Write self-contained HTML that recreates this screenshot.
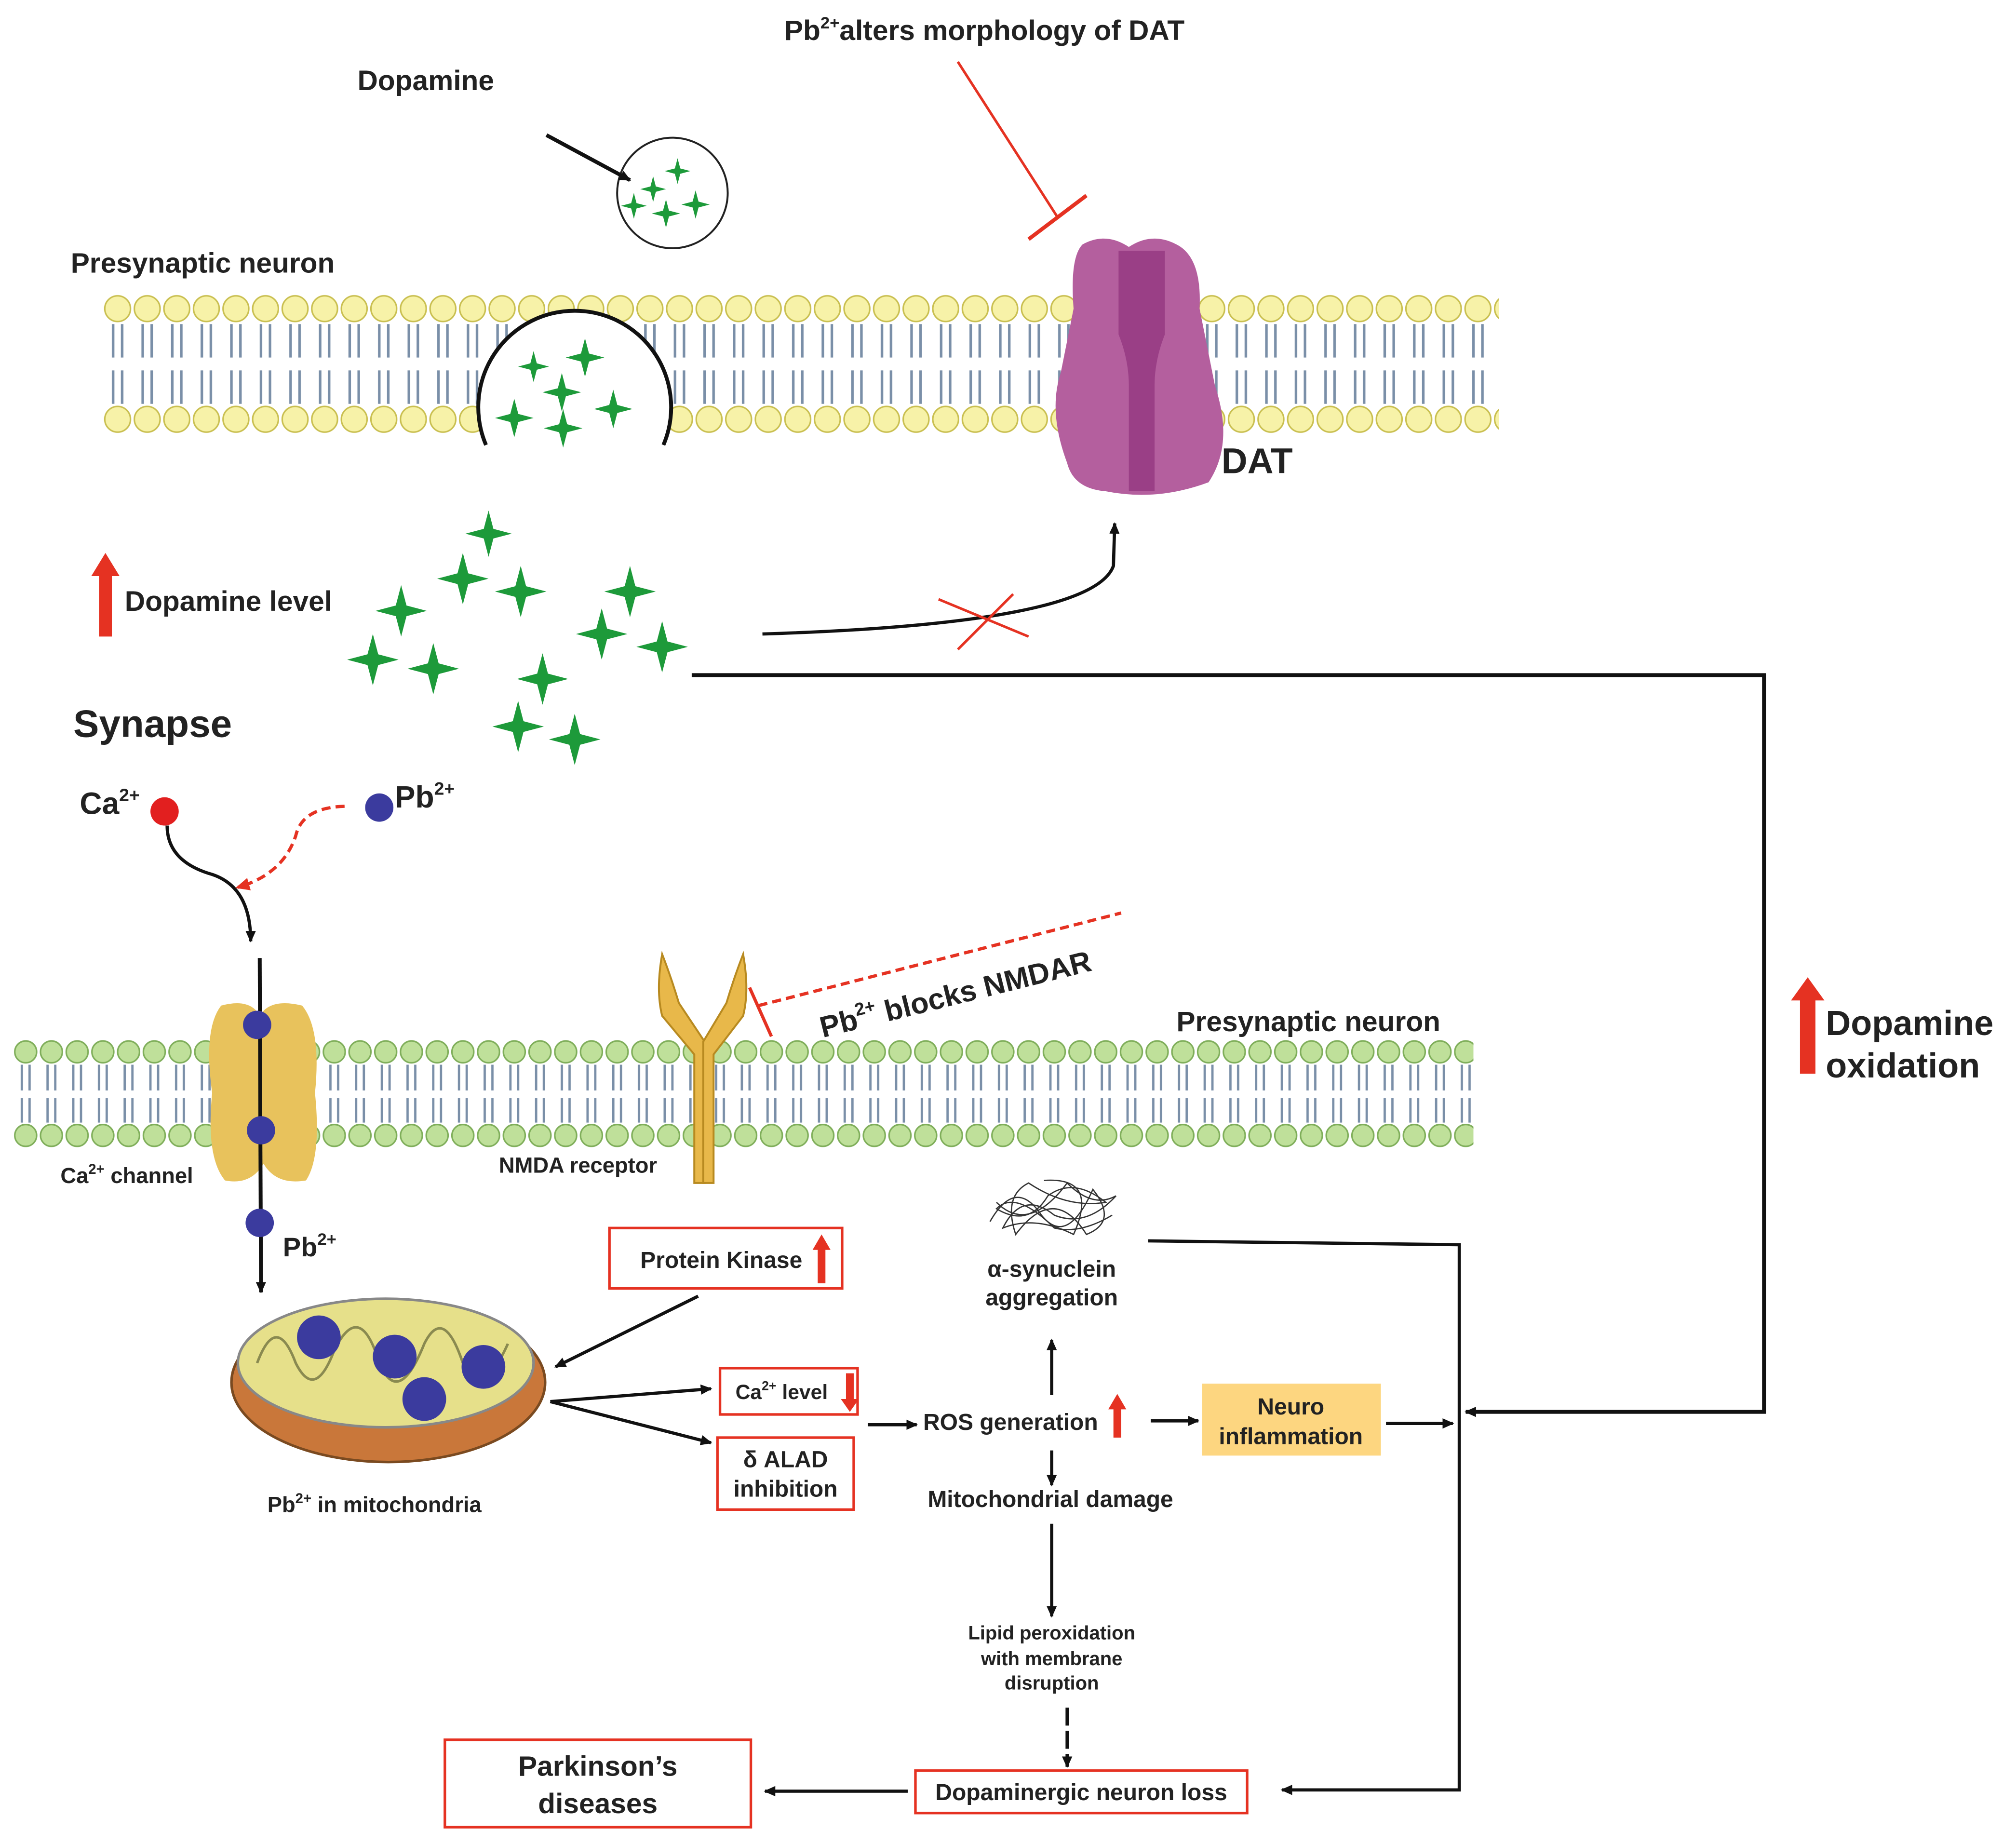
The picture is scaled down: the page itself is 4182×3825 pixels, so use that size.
<!DOCTYPE html>
<html><head><meta charset="utf-8"><style>
html,body{margin:0;padding:0;background:#fff}
svg{display:block}
text{font-family:"Liberation Sans",sans-serif;font-weight:bold;fill:#222}
</style></head><body>
<svg width="4182" height="3825" viewBox="0 0 1568 1434" xmlns="http://www.w3.org/2000/svg">
<defs>
<pattern id="memY" x="80" y="228" width="23" height="110" patternUnits="userSpaceOnUse">
<circle cx="11.5" cy="12" r="10" fill="#f7f2a8" stroke="#c9bf50" stroke-width="1.2"/>
<circle cx="11.5" cy="98" r="10" fill="#f7f2a8" stroke="#c9bf50" stroke-width="1.2"/>
<path d="M8 24 V50 M15 24 V50 M8 60 V86 M15 60 V86" stroke="#7a8fa8" stroke-width="2" fill="none"/>
</pattern>
<pattern id="memG" x="10" y="808" width="20" height="85" patternUnits="userSpaceOnUse">
<circle cx="10" cy="10" r="8.5" fill="#bfe09a" stroke="#7fae5a" stroke-width="1.2"/>
<circle cx="10" cy="75" r="8.5" fill="#bfe09a" stroke="#7fae5a" stroke-width="1.2"/>
<path d="M7 20 V40 M13 20 V40 M7 46 V65 M13 46 V65" stroke="#7a8fa8" stroke-width="1.8" fill="none"/>
</pattern>
<symbol id="star" viewBox="-12 -12 24 24" overflow="visible">
<path d="M0 -12 L2.5 -2.5 L12 0 L2.5 2.5 L0 12 L-2.5 2.5 L-12 0 L-2.5 -2.5 Z" fill="#1d9a3a"/>
</symbol>
<marker id="ah" markerWidth="10" markerHeight="10" refX="8" refY="5" orient="auto" markerUnits="userSpaceOnUse"><path d="M0 1 L9 5 L0 9 Z" fill="#111"/></marker>
<marker id="ahr" markerWidth="12" markerHeight="12" refX="9" refY="6" orient="auto" markerUnits="userSpaceOnUse"><path d="M0 1 L11 6 L0 11 Z" fill="#e53222"/></marker>
</defs>

<!-- top membrane -->
<rect x="80" y="228" width="1086" height="110" fill="url(#memY)"/>
<!-- vesicle fusion -->
<path d="M378 346 A75 75 0 1 1 516 346 Z" fill="#fff"/>
<rect x="378" y="300" width="138" height="46" fill="#fff"/>
<path d="M378 346 A75 75 0 1 1 516 346" fill="none" stroke="#111" stroke-width="3"/>
<use href="#star" x="403" y="273" width="24" height="24"/>
<use href="#star" x="440" y="263" width="30" height="30"/>
<use href="#star" x="385" y="310" width="30" height="30"/>
<use href="#star" x="422" y="290" width="30" height="30"/>
<use href="#star" x="462" y="303" width="30" height="30"/>
<use href="#star" x="423" y="318" width="30" height="30"/>

<!-- DAT -->
<path d="M842 190 Q860 180 878 192 Q896 180 915 190 Q935 200 933 240 L945 300 Q960 345 940 375 Q900 390 860 382 Q835 380 830 360 Q815 320 825 290 L835 240 Q832 200 842 190 Z" fill="#b45f9e"/>
<path d="M870 195 L870 260 Q878 280 878 300 L878 382 L898 382 L898 300 Q898 280 906 260 L906 195" fill="#9a3f86"/>
<text x="950" y="368" font-size="28">DAT</text>

<!-- small vesicle -->
<circle cx="523" cy="150" r="43" fill="#fff" stroke="#222" stroke-width="1.5"/>
<use href="#star" x="517" y="123" width="20" height="20"/>
<use href="#star" x="498" y="137" width="20" height="20"/>
<use href="#star" x="530" y="148" width="22" height="22"/>
<use href="#star" x="483" y="150" width="20" height="20"/>
<use href="#star" x="507" y="155" width="22" height="22"/>
<line x1="425" y1="105" x2="490" y2="140" stroke="#111" stroke-width="3" marker-end="url(#ah)"/>

<text x="278" y="70" font-size="22">Dopamine</text>
<text x="610" y="31" font-size="22">Pb<tspan font-size="13" dy="-9">2+</tspan><tspan dy="9">alters morphology of DAT</tspan></text>
<line x1="745" y1="48" x2="822" y2="168" stroke="#e53222" stroke-width="2"/>
<line x1="800" y1="186" x2="845" y2="152" stroke="#e53222" stroke-width="3"/>
<text x="55" y="212" font-size="22">Presynaptic neuron</text>

<!-- dopamine level -->
<path d="M77 495 V448 H71 L82 430 L93 448 H87 V495 Z" fill="#e53222"/>
<text x="97" y="475" font-size="22">Dopamine level</text>
<g>
<use href="#star" x="362" y="395" width="36" height="40"/>
<use href="#star" x="340" y="430" width="40" height="40"/>
<use href="#star" x="385" y="440" width="40" height="40"/>
<use href="#star" x="292" y="455" width="40" height="40"/>
<use href="#star" x="470" y="440" width="40" height="40"/>
<use href="#star" x="448" y="473" width="40" height="40"/>
<use href="#star" x="495" y="483" width="40" height="40"/>
<use href="#star" x="270" y="493" width="40" height="40"/>
<use href="#star" x="317" y="500" width="40" height="40"/>
<use href="#star" x="402" y="508" width="40" height="40"/>
<use href="#star" x="383" y="545" width="40" height="40"/>
<use href="#star" x="427" y="555" width="40" height="40"/>
</g>
<path d="M593 493 Q850 485 866 440 L867 407" fill="none" stroke="#111" stroke-width="2.5" marker-end="url(#ah)"/>
<line x1="730" y1="466" x2="800" y2="495" stroke="#e53222" stroke-width="2"/>
<line x1="745" y1="505" x2="788" y2="462" stroke="#e53222" stroke-width="2"/>

<polyline points="538,525 1372,525 1372,1098 1140,1098" fill="none" stroke="#111" stroke-width="3" marker-end="url(#ah)"/>

<text x="57" y="573" font-size="30">Synapse</text>
<text x="62" y="633" font-size="24">Ca<tspan font-size="14" dy="-10">2+</tspan></text>
<circle cx="128" cy="631" r="11" fill="#e21f1f"/>
<circle cx="295" cy="628" r="11" fill="#3b3b9e"/>
<text x="307" y="628" font-size="24">Pb<tspan font-size="14" dy="-10">2+</tspan></text>
<path d="M130 642 Q130 670 165 680 Q195 690 195 732" fill="none" stroke="#111" stroke-width="2.5" marker-end="url(#ah)"/>
<path d="M268 627 Q235 628 230 650 Q220 680 185 690" fill="none" stroke="#e53222" stroke-width="2.5" stroke-dasharray="7,4" marker-end="url(#ahr)"/>

<!-- lower membrane -->
<rect x="10" y="808" width="1136" height="85" fill="url(#memG)"/>
<path d="M172 782 Q195 776 202 790 Q210 776 235 782 Q250 800 245 850 Q250 900 238 918 Q215 922 205 905 Q195 922 175 918 Q160 900 165 850 Q158 800 172 782 Z" fill="#e8c25c"/>
<line x1="202" y1="745" x2="203" y2="1005" stroke="#111" stroke-width="3" marker-end="url(#ah)"/>
<circle cx="200" cy="797" r="11" fill="#3b3b9e"/>
<circle cx="203" cy="879" r="11" fill="#3b3b9e"/>
<circle cx="202" cy="951" r="11" fill="#3b3b9e"/>
<text x="47" y="920" font-size="17">Ca<tspan font-size="11" dy="-7">2+</tspan><tspan dy="7"> channel</tspan></text>
<text x="220" y="977" font-size="21">Pb<tspan font-size="13" dy="-9">2+</tspan></text>

<path d="M515 742 Q510 770 515 790 L540 820 L540 920 L548 920 L548 810 L528 780 Q522 760 515 742 Z" fill="#e8b84a" stroke="#b88a20" stroke-width="1.5"/>
<path d="M578 742 Q583 770 578 790 L555 820 L555 920 L547 920 L547 810 L565 780 Q571 760 578 742 Z" fill="#e8b84a" stroke="#b88a20" stroke-width="1.5"/>
<text x="388" y="912" font-size="17">NMDA receptor</text>
<line x1="590" y1="782" x2="872" y2="710" stroke="#e53222" stroke-width="2.5" stroke-dasharray="7,4"/>
<line x1="583" y1="768" x2="600" y2="806" stroke="#e53222" stroke-width="2.5"/>
<text x="640" y="807" font-size="23" transform="rotate(-14 640 807)">Pb<tspan font-size="14" dy="-10">2+</tspan><tspan dy="10">  blocks NMDAR</tspan></text>
<text x="915" y="802" font-size="22">Presynaptic neuron</text>

<ellipse cx="302" cy="1075" rx="122" ry="62" fill="#c9773a" stroke="#7a4a20" stroke-width="2"/>
<ellipse cx="300" cy="1060" rx="115" ry="50" fill="#e6e08a" stroke="#888" stroke-width="2"/>
<path d="M200 1060 Q215 1020 230 1060 Q245 1090 260 1050 Q280 1010 295 1060 Q310 1095 330 1045 Q345 1015 360 1060 Q375 1090 395 1045" fill="none" stroke="#8a8a50" stroke-width="2"/>
<circle cx="248" cy="1040" r="17" fill="#3b3b9e"/>
<circle cx="307" cy="1055" r="17" fill="#3b3b9e"/>
<circle cx="376" cy="1063" r="17" fill="#3b3b9e"/>
<circle cx="330" cy="1088" r="17" fill="#3b3b9e"/>
<text x="208" y="1176" font-size="17">Pb<tspan font-size="11" dy="-7">2+</tspan><tspan dy="7"> in mitochondria</tspan></text>

<rect x="474" y="955" width="181" height="47" fill="#fff" stroke="#e53222" stroke-width="2"/>
<text x="498" y="986" font-size="18">Protein Kinase</text>
<path d="M636 998 V972 H632 L639 960 L646 972 H642 V998 Z" fill="#e53222"/>
<line x1="543" y1="1008" x2="432" y2="1063" stroke="#111" stroke-width="2.5" marker-end="url(#ah)"/>
<line x1="428" y1="1090" x2="553" y2="1080" stroke="#111" stroke-width="2.5" marker-end="url(#ah)"/>
<line x1="428" y1="1090" x2="553" y2="1122" stroke="#111" stroke-width="2.5" marker-end="url(#ah)"/>

<rect x="560" y="1064" width="107" height="36" fill="#fff" stroke="#e53222" stroke-width="2"/>
<text x="572" y="1088" font-size="16">Ca<tspan font-size="10" dy="-7">2+</tspan><tspan dy="7"> level</tspan></text>
<path d="M658 1068 V1088 H654 L661 1098 L668 1088 H664 V1068 Z" fill="#e53222"/>
<rect x="558" y="1118" width="106" height="56" fill="#fff" stroke="#e53222" stroke-width="2"/>
<text x="611" y="1141" font-size="18" text-anchor="middle">δ ALAD</text>
<text x="611" y="1164" font-size="18" text-anchor="middle">inhibition</text>

<line x1="675" y1="1108" x2="713" y2="1108" stroke="#111" stroke-width="2.5" marker-end="url(#ah)"/>
<text x="718" y="1112" font-size="18">ROS generation</text>
<path d="M866 1118 V1096 H862 L869 1084 L876 1096 H872 V1118 Z" fill="#e53222"/>
<line x1="895" y1="1105" x2="932" y2="1105" stroke="#111" stroke-width="2.5" marker-end="url(#ah)"/>
<rect x="935" y="1076" width="139" height="56" fill="#fdd680"/>
<text x="1004" y="1100" font-size="18" text-anchor="middle">Neuro</text>
<text x="1004" y="1123" font-size="18" text-anchor="middle">inflammation</text>
<line x1="1078" y1="1107" x2="1130" y2="1107" stroke="#111" stroke-width="2.5" marker-end="url(#ah)"/>

<g fill="none" stroke="#333" stroke-width="1">
<path d="M770 950 Q790 915 810 945 Q830 970 850 925 Q870 950 845 960 Q820 920 790 960 Q780 930 800 920 Q830 940 860 935 Q835 915 815 930 Q800 955 775 940 Q790 925 820 955 Q840 960 865 945"/>
<path d="M775 935 Q800 960 830 920 Q850 940 868 930 Q845 955 820 945 Q795 925 780 955 Q805 945 835 960 Q855 915 812 918"/>
</g>
<text x="818" y="993" font-size="18" text-anchor="middle">α-synuclein</text>
<text x="818" y="1015" font-size="18" text-anchor="middle">aggregation</text>
<line x1="818" y1="1085" x2="818" y2="1042" stroke="#111" stroke-width="2.5" marker-end="url(#ah)"/>
<line x1="818" y1="1128" x2="818" y2="1155" stroke="#111" stroke-width="2.5" marker-end="url(#ah)"/>
<text x="817" y="1172" font-size="18" text-anchor="middle">Mitochondrial damage</text>
<line x1="818" y1="1185" x2="818" y2="1257" stroke="#111" stroke-width="2.5" marker-end="url(#ah)"/>
<text x="818" y="1275" font-size="15" text-anchor="middle">Lipid peroxidation</text>
<text x="818" y="1295" font-size="15" text-anchor="middle">with membrane</text>
<text x="818" y="1314" font-size="15" text-anchor="middle">disruption</text>
<line x1="830" y1="1328" x2="830" y2="1374" stroke="#111" stroke-width="2.5" stroke-dasharray="14,4" marker-end="url(#ah)"/>
<rect x="712" y="1377" width="258" height="33" fill="#fff" stroke="#e53222" stroke-width="2"/>
<text x="841" y="1400" font-size="18" text-anchor="middle">Dopaminergic neuron loss</text>
<line x1="706" y1="1393" x2="595" y2="1393" stroke="#111" stroke-width="2.5" marker-end="url(#ah)"/>
<rect x="346" y="1353" width="238" height="68" fill="#fff" stroke="#e53222" stroke-width="2"/>
<text x="465" y="1381" font-size="22" text-anchor="middle">Parkinson’s</text>
<text x="465" y="1410" font-size="22" text-anchor="middle">diseases</text>
<polyline points="893,965 1135,968 1135,1392 997,1392" fill="none" stroke="#111" stroke-width="2.5" marker-end="url(#ah)"/>

<path d="M1400 835 V778 H1393 L1406 760 L1419 778 H1412 V835 Z" fill="#e53222"/>
<text x="1420" y="805" font-size="27">Dopamine</text>
<text x="1420" y="838" font-size="27">oxidation</text>
</svg>
</body></html>
